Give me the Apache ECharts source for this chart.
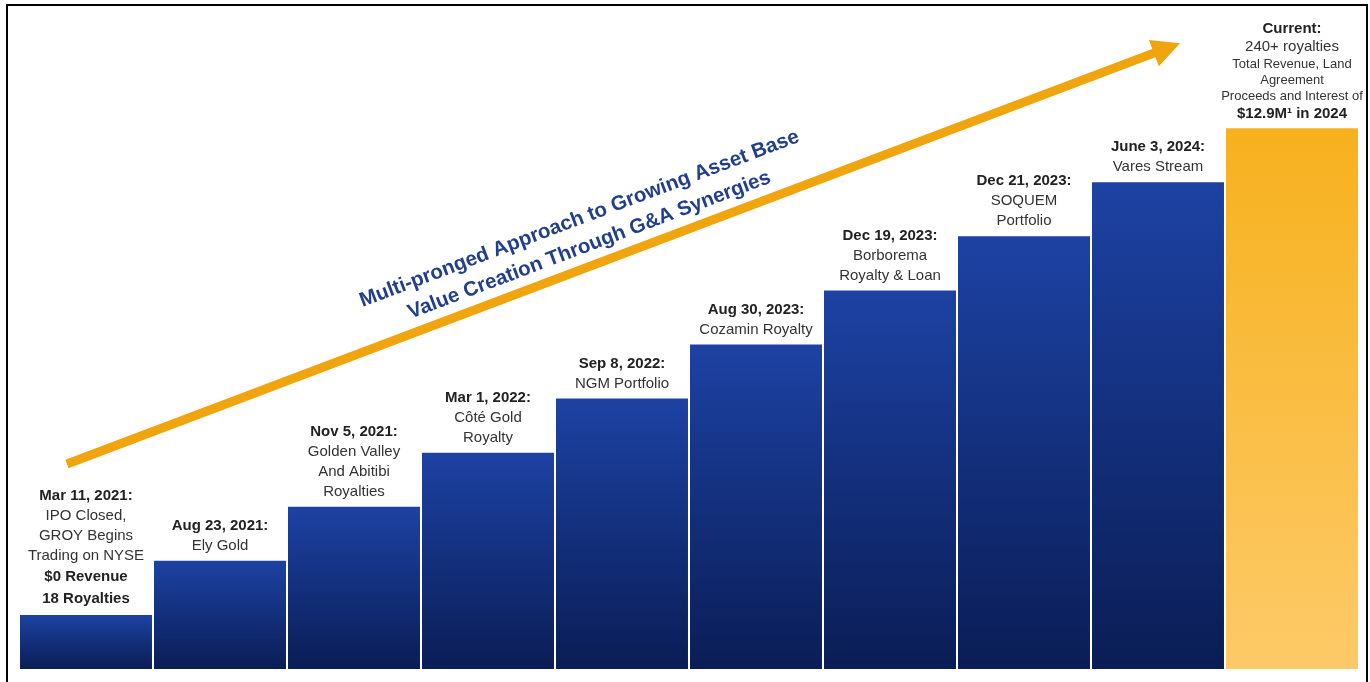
<!DOCTYPE html>
<html>
<head>
<meta charset="utf-8">
<script src="https://cdn.jsdelivr.net/npm/echarts@6/dist/echarts.min.js"></script>
<style>
html,body{margin:0;padding:0;background:#fff;}
#chart{width:1370px;height:682px;}
</style>
</head>
<body>
<div id="chart"></div>
<script>
// ---- data ----
const dates = ['Mar 11, 2021:', 'Aug 23, 2021:', 'Nov 5, 2021:', 'Mar 1, 2022:', 'Sep 8, 2022:',
  'Aug 30, 2023:', 'Dec 19, 2023:', 'Dec 21, 2023:', 'June 3, 2024:', 'Current:'];
const notes = [
  ['IPO Closed,', 'GROY Begins', 'Trading on NYSE'],
  ['Ely Gold'],
  ['Golden Valley', 'And Abitibi', 'Royalties'],
  ['Côté Gold', 'Royalty'],
  ['NGM Portfolio'],
  ['Cozamin Royalty'],
  ['Borborema', 'Royalty & Loan'],
  ['SOQUEM', 'Portfolio'],
  ['Vares Stream'],
  ['240+ royalties']
];
const smallNotes = [[], [], [], [], [], [], [], [], [], ['Total Revenue, Land', 'Agreement', 'Proceeds and Interest of']];
const keyFacts = [['$0 Revenue', '18 Royalties'], [], [], [], [], [], [], [], [], ['$12.9M¹ in 2024']];
const stepLevels = [1, 2, 3, 4, 5, 6, 7, 8, 9, 10];
const arrowStart = [0.358, 3.79];
const arrowEnd = [8.567, 11.48];
const themeLines = ['Multi-pronged Approach to Growing Asset Base', 'Value Creation Through G&A Synergies'];

// ---- chart ----
const FONT = '"Liberation Sans", Arial, sans-serif';
const chart = echarts.init(document.getElementById('chart'));
const lastIdx = stepLevels.length - 1;

const blueGrad = new echarts.graphic.LinearGradient(0, 0, 0, 1, [
  { offset: 0, color: '#1d42a3' }, { offset: 1, color: '#0a1d55' }]);
const goldGrad = new echarts.graphic.LinearGradient(0, 0, 0, 1, [
  { offset: 0, color: '#f7b11e' }, { offset: 1, color: '#fdca68' }]);

function labelText(i) {
  const last = i === lastIdx;
  const parts = [];
  parts.push('{' + (last ? 'dc' : 'd') + '|' + dates[i] + '}');
  notes[i].forEach(t => parts.push('{' + (last ? 'nc' : 'n') + '|' + t + '}'));
  smallNotes[i].forEach(t => parts.push('{s|' + t + '}'));
  keyFacts[i].forEach(t => parts.push('{' + (last ? 'kc' : 'k') + '|' + t + '}'));
  return parts.join('\n');
}

const barData = stepLevels.map((v, i) => ({
  value: v,
  itemStyle: { color: i === lastIdx ? goldGrad : blueGrad }
}));

const borderRect = {
  type: 'rect',
  shape: { x: 7, y: 5, width: 1360, height: 700 },
  style: { fill: 'none', stroke: '#000', lineWidth: 2 },
  silent: true
};

chart.setOption({
  animation: false,
  backgroundColor: '#ffffff',
  grid: { left: 19, right: 11, top: 20, bottom: 13 },
  xAxis: [
    { type: 'category', data: dates, show: false },
    { type: 'value', min: 0, max: 10, show: false }
  ],
  yAxis: [{ type: 'value', min: 0, max: 12, show: false }],
  series: [
    {
      type: 'bar',
      data: barData,
      barCategoryGap: '1.5%',
      label: {
        show: true,
        position: 'top',
        distance: 5,
        formatter: p => labelText(p.dataIndex),
        rich: {
          d: { fontFamily: FONT, fontSize: 15, fontWeight: 'bold', color: '#222', lineHeight: 20 },
          n: { fontFamily: FONT, fontSize: 15, color: '#333', lineHeight: 20 },
          k: { fontFamily: FONT, fontSize: 15, fontWeight: 'bold', color: '#222', lineHeight: 22 },
          dc: { fontFamily: FONT, fontSize: 15, fontWeight: 'bold', color: '#222', lineHeight: 18 },
          nc: { fontFamily: FONT, fontSize: 15, color: '#333', lineHeight: 18 },
          s: { fontFamily: FONT, fontSize: 13, color: '#333', lineHeight: 16 },
          kc: { fontFamily: FONT, fontSize: 15, fontWeight: 'bold', color: '#222', lineHeight: 19 }
        }
      }
    },
    {
      type: 'lines',
      coordinateSystem: 'cartesian2d',
      xAxisIndex: 1,
      yAxisIndex: 0,
      symbol: ['none', 'triangle'],
      symbolSize: [28, 28],
      lineStyle: { color: '#f0a40d', width: 9, opacity: 1, curveness: 0 },
      data: [{ coords: [arrowStart, arrowEnd] }],
      silent: true
    }
  ],
  graphic: [borderRect]
});

// place the theme text along the arrow
const p0 = chart.convertToPixel({ xAxisIndex: 1, yAxisIndex: 0 }, arrowStart);
const p1 = chart.convertToPixel({ xAxisIndex: 1, yAxisIndex: 0 }, arrowEnd);
const ang = Math.atan2(p0[1] - p1[1], p1[0] - p0[0]);
const dir = [Math.cos(ang), -Math.sin(ang)];
const perp = [-Math.sin(ang), -Math.cos(ang)];
const mid = [(p0[0] + p1[0]) / 2, (p0[1] + p1[1]) / 2];
const along = -22, up = 34;
const tp = [mid[0] + dir[0] * along + perp[0] * up, mid[1] + dir[1] * along + perp[1] * up];
chart.setOption({
  graphic: [
    borderRect,
    {
      type: 'text',
      x: tp[0], y: tp[1],
      rotation: ang,
      silent: true,
      style: {
        text: themeLines.join('\n'),
        fontFamily: FONT,
        fontSize: 20.5,
        fontWeight: 'bold',
        fill: '#223f8c',
        lineHeight: 28,
        align: 'center',
        verticalAlign: 'middle'
      }
    }
  ]
});
</script>
</body>
</html>
